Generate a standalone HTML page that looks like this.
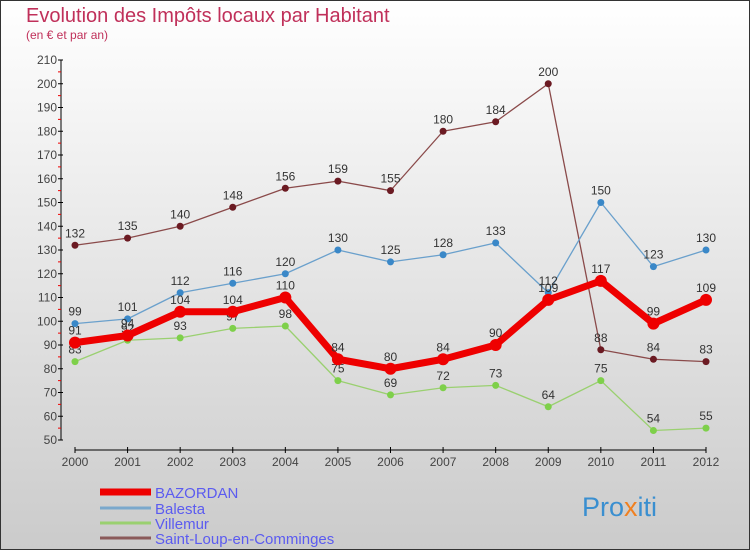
<!DOCTYPE html>
<html><head><meta charset="utf-8"><style>
body{margin:0}
#c{width:750px;height:550px;position:relative;overflow:hidden;font-family:"Liberation Sans","DejaVu Sans",sans-serif}
</style></head><body>
<div id="c">
<svg id="s" width="750" height="550" xmlns="http://www.w3.org/2000/svg">
<defs><linearGradient id="bg" x1="0" y1="0" x2="0" y2="1"><stop offset="0" stop-color="#ffffff"/><stop offset="1" stop-color="#cbcbcb"/></linearGradient></defs>
<rect x="0.5" y="0.5" width="749" height="549" fill="url(#bg)" stroke="#333"/>
<text x="26" y="22" font-size="20" fill="#c0305a">Evolution des Impôts locaux par Habitant</text>
<text x="26" y="39" font-size="12" fill="#c0305a">(en € et par an)</text>
<g id="axes"></g><g id="series"></g><g id="legend"></g>
<text x="582" y="516" font-size="27" fill="#3a8fd0">Pro<tspan fill="#f08020">x</tspan>iti</text>
</svg></div>
<script>
const years=["2000","2001","2002","2003","2004","2005","2006","2007","2008","2009","2010","2011","2012"];
const yTicks=[50,60,70,80,90,100,110,120,130,140,150,160,170,180,190,200,210];
const bazordan=[91,94,104,104,110,84,80,84,90,109,117,99,109];
const balesta=[99,101,112,116,120,130,125,128,133,112,150,123,130];
const villemur=[83,92,93,97,98,75,69,72,73,64,75,54,55];
const saintLoup=[132,135,140,148,156,159,155,180,184,200,88,84,83];
const NS="http://www.w3.org/2000/svg";
const X=i=>75+i*(706-75)/12;
const Y=v=>440-(v-50)*(380/160);
function mk(t,a,p){const e=document.createElementNS(NS,t);for(const k in a)e.setAttribute(k,a[k]);p.appendChild(e);return e;}
const ax=document.getElementById('axes');
const yl=mk('line',{x1:61,y1:60,x2:61,y2:440,stroke:'#000'},ax);


yTicks.forEach(v=>{
 mk('line',{x1:58,y1:Y(v),x2:63,y2:Y(v),stroke:'#000'},ax);
 if(v<210)mk('line',{x1:58,y1:Y(v+5),x2:61,y2:Y(v+5),stroke:'#e00'},ax);
 const t=mk('text',{x:57,y:Y(v)+4,'font-size':12,'text-anchor':'end',fill:'#444'},ax);
 t.textContent=v;
 
 
});
const xl=mk('line',{x1:75,y1:450,x2:706,y2:450,stroke:'#000'},ax);


years.forEach((y,i)=>{
 mk('line',{x1:X(i),y1:447,x2:X(i),y2:453,stroke:'#000'},ax);
 const t=mk('text',{x:X(i),y:466,'font-size':12,'text-anchor':'middle',fill:'#444'},ax);
 t.textContent=y;
 
 
});
const sg=document.getElementById('series');
const series=[
 {name:'saint-loup',d:saintLoup,c:'#6b1a22',lc:'#8a4a4a',w:1.3,r:3.5},
 {name:'villemur',d:villemur,c:'#7ed04a',lc:'#9ad070',w:1.3,r:3.5},
 {name:'balesta',d:balesta,c:'#3a88c8',lc:'#6aa0cc',w:1.3,r:3.5},
 {name:'bazordan',d:bazordan,c:'#ee0000',lc:'#ee0000',w:7,r:6}
];
series.forEach(s=>{
 const g=mk('g',{},sg);
 
 
 const p=mk('polyline',{points:s.d.map((v,i)=>X(i)+','+Y(v)).join(' '),fill:'none',stroke:s.lc,'stroke-width':s.w,'stroke-linejoin':'round'},g);
 
 
 s.d.forEach((v,i)=>{
  const c=mk('circle',{cx:X(i),cy:Y(v),r:s.r,fill:s.c},g);
  
  
  const t=mk('text',{x:X(i),y:Y(v)-8,'font-size':12,'text-anchor':'middle',fill:'#333'},g);
  t.textContent=v;
  
  
 });
});
const lg=document.getElementById('legend');
const leg=[['BAZORDAN','#ee0000',7,492],['Balesta','#7aa8cc',3,508],['Villemur','#9ad070',3,523],['Saint-Loup-en-Comminges','#8a5a5a',3,538]];
leg.forEach(l=>{
 const g=mk('g',{},lg);
 
 
 mk('line',{x1:100,y1:l[3],x2:151,y2:l[3],stroke:l[1],'stroke-width':l[2]},g);
 const t=mk('text',{x:155,y:l[3]+6,'font-size':15,fill:'#5b5bf0'},g);
 t.textContent=l[0];
});
</script>
</body></html>
